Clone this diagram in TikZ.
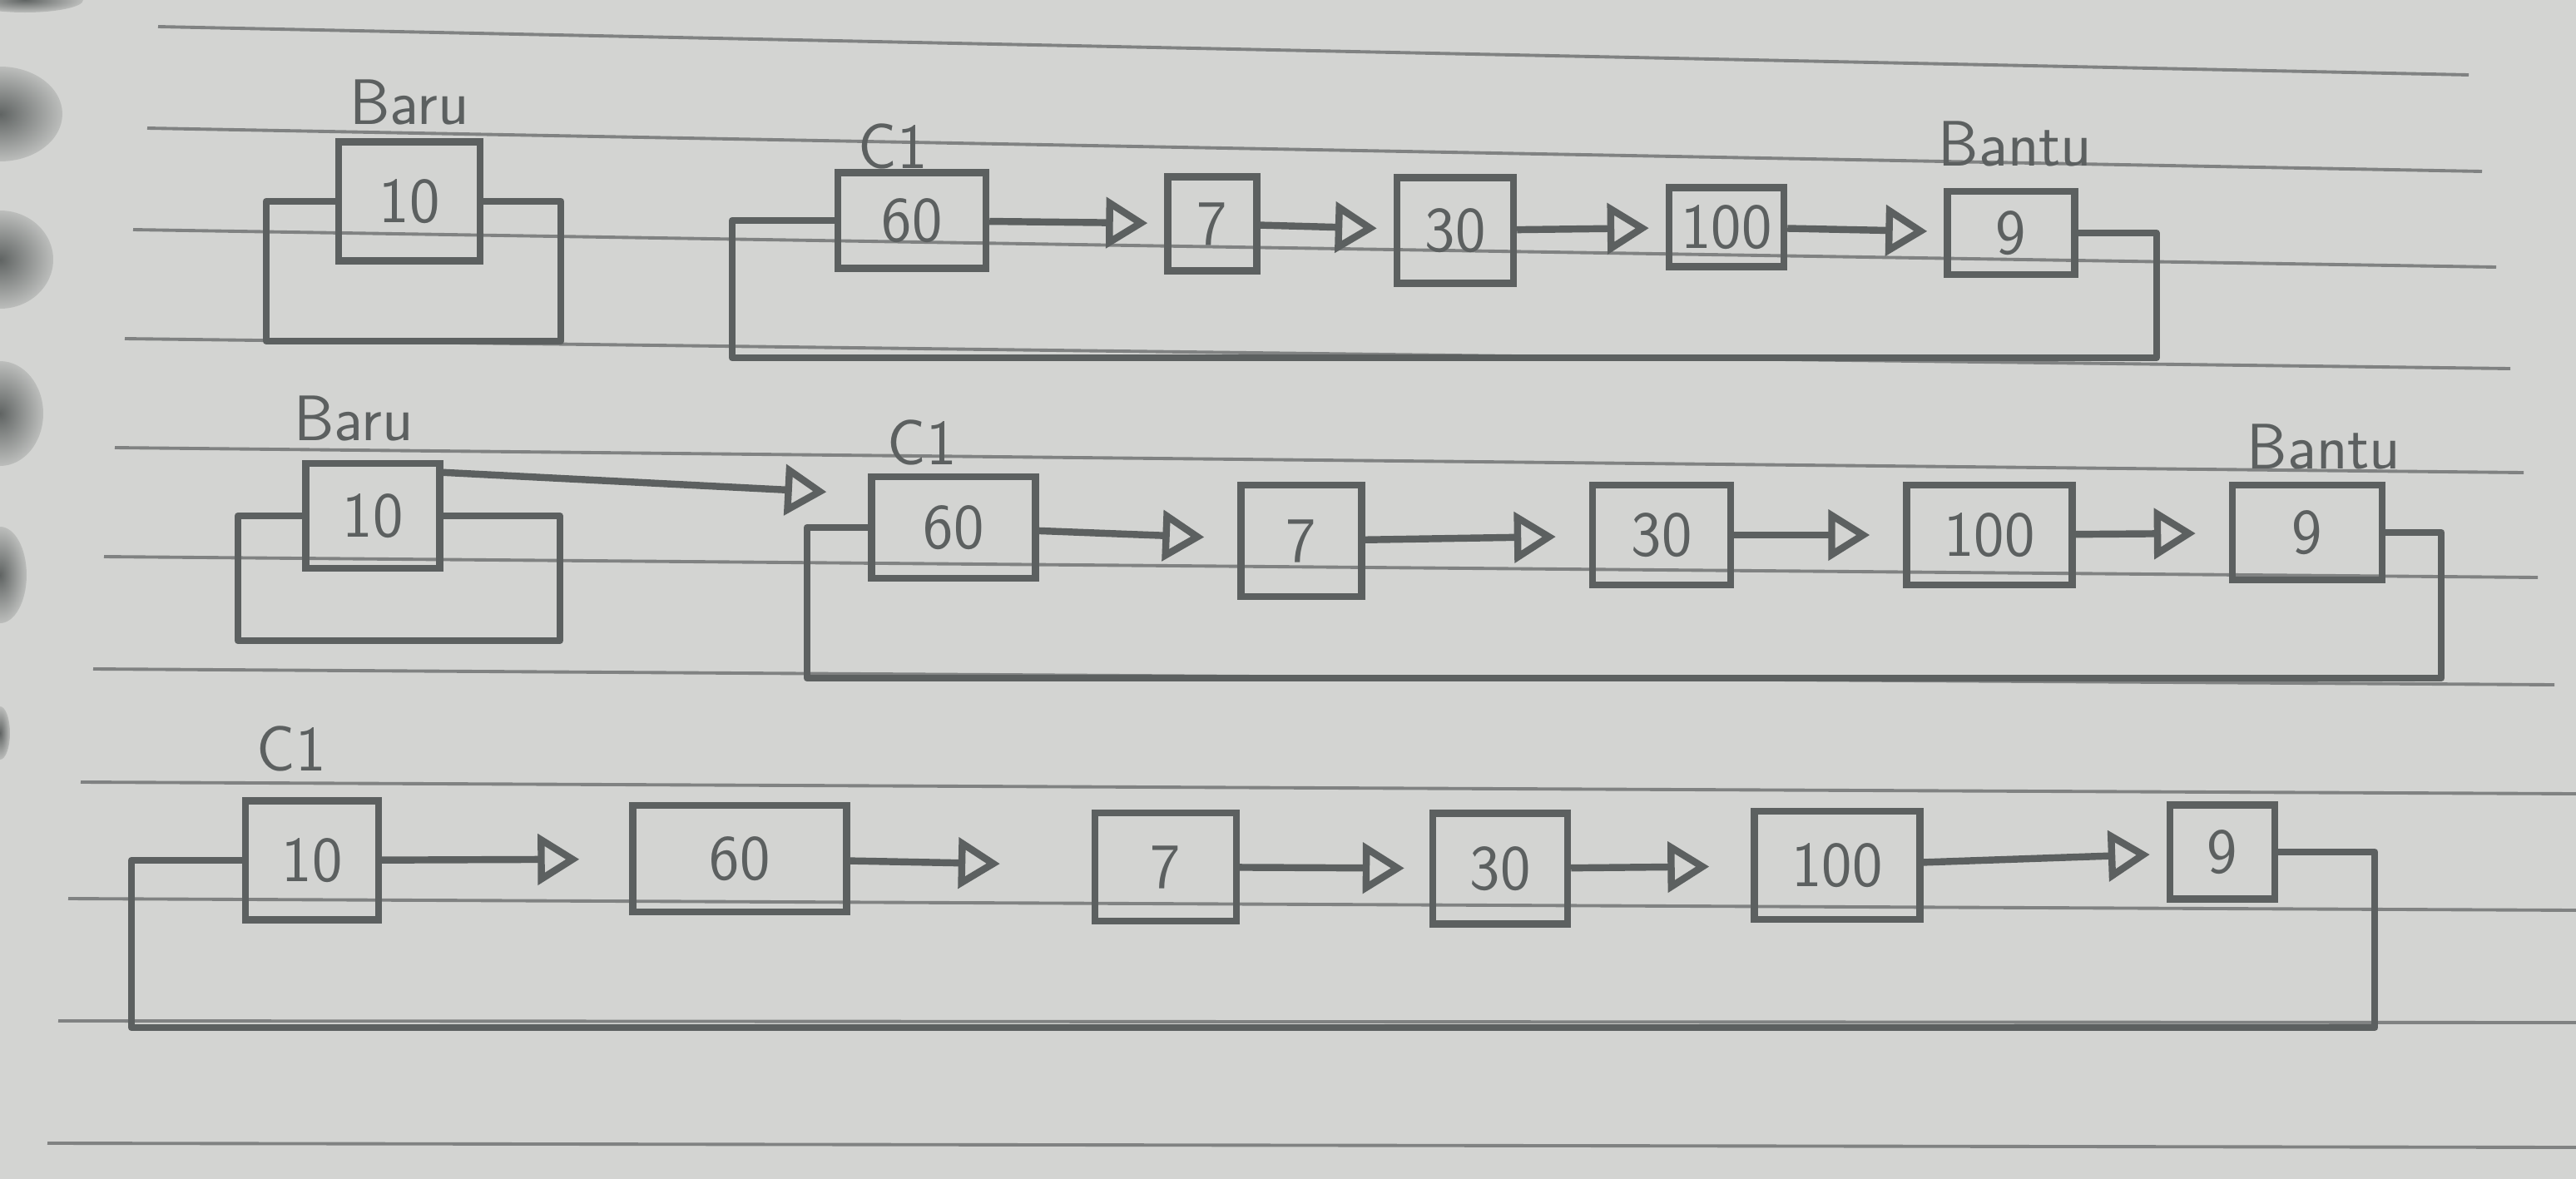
\documentclass[tikz,border=0pt]{standalone}
\usepackage{fontspec}
\usepackage{tikz}
\usetikzlibrary{positioning}
\usetikzlibrary{arrows.meta}
\definecolor{ink}{RGB}{92,96,96}
\definecolor{paper}{RGB}{211,212,210}
\definecolor{rulegray}{RGB}{128,130,130}
\definecolor{hole}{RGB}{96,100,99}

\begin{document}
\begin{tikzpicture}[->, >={Triangle[open, length=5mm, width=6mm]}, shorten >= 4mm, color=ink, line width=2.4pt, font=\sffamily]
\tikzstyle{block}=[draw, rectangle, inner sep=0pt, font=\sffamily\fontsize{22}{24}\selectfont]
\tikzstyle{annot}=[font=\sffamily\fontsize{22}{24}\selectfont]
\tikzstyle{rule}=[-, draw=rulegray, line width=1.1pt, shorten >=0pt]
\tikzstyle{back}=[-, shorten >=0pt, line join=round]
\tikzstyle{ring}=[inner color=hole, outer color=paper!80!hole]

% paper and ruling
\fill[paper] (0,0) rectangle (30.96,-14.17);
\useasboundingbox (0,0) rectangle (30.96,-14.17);
\begin{scope}
\clip (0,0) rectangle (30.96,-14.17);
\shade[ring] (0.30,0) ellipse (0.70 and 0.15);
\shade[ring] (0,-1.37) ellipse (0.75 and 0.57);
\shade[ring] (0,-3.12) ellipse (0.64 and 0.59);
\shade[ring] (0,-4.97) ellipse (0.52 and 0.63);
\shade[ring] (0,-6.91) ellipse (0.32 and 0.58);
\shade[ring] (0,-8.81) ellipse (0.12 and 0.32);
\end{scope}
\draw[rule] (1.90,-0.32) -- (29.67,-0.90);
\draw[rule] (1.77,-1.54) -- (29.83,-2.06);
\draw[rule] (1.60,-2.76) -- (30.00,-3.21);
\draw[rule] (1.50,-4.07) -- (30.17,-4.43);
\draw[rule] (1.38,-5.38) -- (30.33,-5.68);
\draw[rule] (1.25,-6.69) -- (30.50,-6.94);
\draw[rule] (1.12,-8.04) -- (30.70,-8.23);
\draw[rule] (0.97,-9.40) -- (30.96,-9.54);
\draw[rule] (0.82,-10.80) -- (30.96,-10.94);
\draw[rule] (0.70,-12.27) -- (30.96,-12.29);
\draw[rule] (0.57,-13.74) -- (30.96,-13.79);

% first list
\node[block, minimum width=1.70cm, minimum height=1.43cm] (baru) at (4.92,-2.42) {10};
\node[block, minimum width=1.78cm, minimum height=1.15cm] (c1) at (10.96,-2.65) {60};
\node[block, minimum width=1.07cm, minimum height=1.13cm] (n7) at (14.57,-2.69) {7};
\node[block, minimum width=1.40cm, minimum height=1.27cm] (n30) at (17.49,-2.77) {30};
\node[block, minimum width=1.38cm, minimum height=0.95cm] (n100) at (20.75,-2.73) {100};
\node[block, minimum width=1.53cm, minimum height=1.00cm] (bantu) at (24.17,-2.80) {9};

\node[annot] (lbaru) at (4.92,-1.23) {Baru};
\node[annot] (lc1) at (10.73,-1.76) {C1};
\node[annot] (lbantu) at (24.22,-1.73) {Bantu};

\path (c1) edge[shorten >=2mm] (n7);
\path (n7) edge[shorten >=2mm] (n30);
\path (n30) edge[shorten >=2mm] (n100);
\path (n100) edge[shorten >=2mm] (bantu);

\draw[back] (baru.east) -- ++(0.93,0) |- (3.20,-4.10) |- (baru.west);
\draw[back] (bantu.east) -- ++(0.94,0) |- (8.80,-4.30) |- (c1.west);

% second list
\node[block, minimum width=1.61cm, minimum height=1.26cm] (baru2) at (4.48,-6.20) {10};
\node[block, minimum width=1.97cm, minimum height=1.22cm] (c12) at (11.46,-6.34) {60};
\node[block, minimum width=1.45cm, minimum height=1.34cm] (n72) at (15.64,-6.50) {7};
\node[block, minimum width=1.66cm, minimum height=1.20cm] (n302) at (19.97,-6.43) {30};
\node[block, minimum width=1.99cm, minimum height=1.20cm] (n1002) at (23.91,-6.43) {100};
\node[block, minimum width=1.80cm, minimum height=1.14cm] (bantu2) at (27.73,-6.40) {9};

\node[annot] (lbaru2) at (4.25,-5.03) {Baru};
\node[annot] (lc12) at (11.08,-5.32) {C1};
\node[annot] (lbantu2) at (27.93,-5.37) {Bantu};

\draw[shorten >=5mm] ([yshift=-1.5mm]baru2.north east) -- ([yshift=-2.5mm]c12.north west);
\path (c12) edge (n72);
\path (n72) edge (n302);
\path (n302) edge (n1002);
\path (n1002) edge (bantu2);

\draw[back] (baru2.east) -- ++(1.40,0) |- (2.86,-7.70) |- (baru2.west);
\draw[back] (bantu2.east) -- ++(0.67,0) |- (9.70,-8.15) |- (c12.west);

% third list
\node[block, minimum width=1.60cm, minimum height=1.43cm] (c13) at (3.75,-10.34) {10};
\node[block, minimum width=2.57cm, minimum height=1.28cm] (n603) at (8.89,-10.32) {60};
\node[block, minimum width=1.70cm, minimum height=1.30cm] (n73) at (14.01,-10.42) {7};
\node[block, minimum width=1.62cm, minimum height=1.33cm] (n303) at (18.03,-10.44) {30};
\node[block, minimum width=1.99cm, minimum height=1.30cm] (n1003) at (22.08,-10.40) {100};
\node[block, minimum width=1.26cm, minimum height=1.13cm] (n93) at (26.71,-10.24) {9};

\node[annot] (lc13) at (3.50,-9.00) {C1};

\path (c13) edge[shorten >=6mm] (n603);
\path (n603) edge[shorten >=11mm] (n73);
\path (n73) edge[shorten >=3mm] (n303);
\path (n303) edge[shorten >=5mm] (n1003);
\path (n1003) edge[shorten >=2mm] (n93);

\draw[back] (n93.east) -- ++(1.16,0) |- (1.58,-12.35) |- (c13.west);
\end{tikzpicture}
\end{document}
